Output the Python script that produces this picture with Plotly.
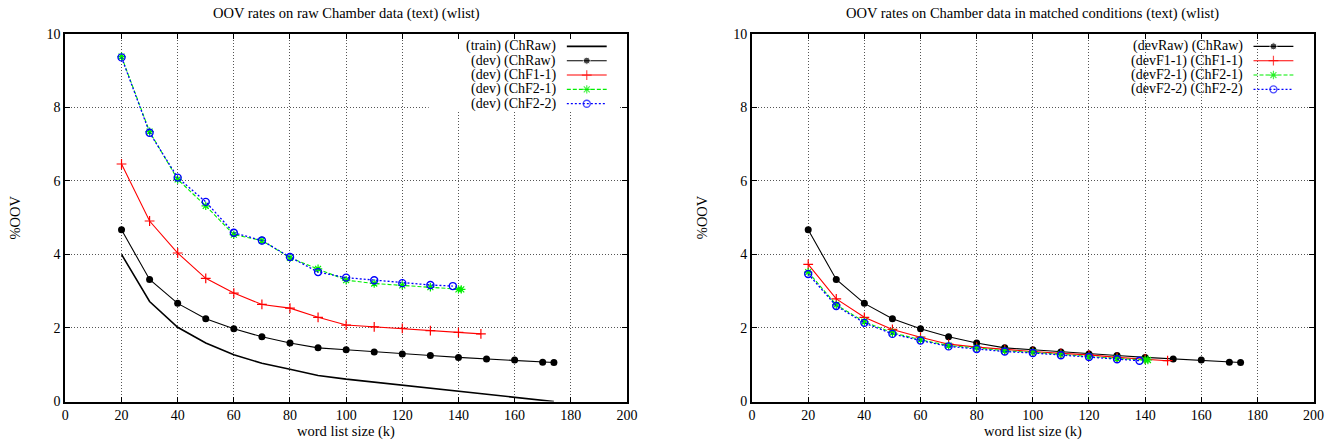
import plotly.graph_objects as go

# word list sizes (k)
x_raw = [20, 30, 40, 50, 60, 70, 80, 90, 100, 110, 120, 130, 140, 150, 160, 170, 174]
x_f1 = [20, 30, 40, 50, 60, 70, 80, 90, 100, 110, 120, 130, 140, 148]
x_f21 = [20, 30, 40, 50, 60, 70, 80, 90, 100, 110, 120, 130, 140, 141]
x_f22 = [20, 30, 40, 50, 60, 70, 80, 90, 100, 110, 120, 130, 138]

# left: raw Chamber data
train_raw = [4.0, 2.72, 2.02, 1.59, 1.27, 1.04, 0.88, 0.71, 0.61, 0.53, 0.45, 0.37,
             0.28, 0.2, 0.12, 0.03, 0.0]
dev_raw = [4.67, 3.32, 2.67, 2.25, 1.98, 1.76, 1.59, 1.46, 1.41, 1.35, 1.29, 1.25,
           1.2, 1.16, 1.13, 1.07, 1.06]
dev_f11 = [6.46, 4.91, 4.04, 3.35, 2.95, 2.64, 2.54, 2.29, 2.08, 2.03, 1.99, 1.93, 1.88, 1.84]
dev_f21 = [9.38, 7.34, 6.04, 5.32, 4.54, 4.38, 3.91, 3.61, 3.3, 3.21, 3.16, 3.11, 3.05, 3.05]
dev_f22 = [9.36, 7.31, 6.09, 5.43, 4.59, 4.38, 3.93, 3.52, 3.37, 3.3, 3.22, 3.17, 3.14]

# right: matched conditions
m_raw = dev_raw
m_f11 = [3.73, 2.79, 2.29, 1.96, 1.75, 1.56, 1.48, 1.41, 1.36, 1.31, 1.27, 1.2, 1.16, 1.11]
m_f21 = [3.52, 2.63, 2.17, 1.87, 1.68, 1.52, 1.46, 1.38, 1.34, 1.28, 1.22, 1.17, 1.13, 1.13]
m_f22 = [3.47, 2.6, 2.14, 1.84, 1.66, 1.5, 1.43, 1.36, 1.32, 1.26, 1.21, 1.15, 1.11]

titles = ["OOV rates on raw Chamber data (text) (wlist)",
          "OOV rates on Chamber data in matched conditions (text) (wlist)"]
left_names = ["(train) (ChRaw)", "(dev) (ChRaw)", "(dev) (ChF1-1)", "(dev) (ChF2-1)", "(dev) (ChF2-2)"]
right_names = ["(devRaw) (ChRaw)", "(devF1-1) (ChF1-1)", "(devF2-1) (ChF2-1)", "(devF2-2) (ChF2-2)"]

FONT = "Liberation Serif"
W, H = 1335, 447
# where the figure actually lands on the page (measured from earlier renders, body margin 0)
X0, XW = 2.7, 1320.7
Y0, YH = 7.2, 431.2

# line / marker styles (gnuplot-like)
st_train = dict(line=dict(color="black", width=1.6), mode="lines", marker=dict(size=1))
st_raw = dict(line=dict(color="black", width=1.1), mode="lines+markers",
              marker=dict(symbol="circle", size=7, color="black"))
st_f11 = dict(line=dict(color="#ff0000", width=1.1), mode="lines+markers",
              marker=dict(symbol="cross-thin", size=7, color="#ff0000",
                          line=dict(color="#ff0000", width=1.2)))
st_f21 = dict(line=dict(color="#00ee00", width=1.1, dash="4px,2px"), mode="lines+markers",
              marker=dict(symbol="asterisk-open", size=7, color="#00ee00",
                          line=dict(color="#00ee00", width=1.2)))
st_f22 = dict(line=dict(color="#0000ff", width=1.3, dash="2px,2px"), mode="lines+markers",
              marker=dict(symbol="circle-open", size=7, color="#0000ff",
                          line=dict(color="#0000ff", width=1.4)))

fig = go.Figure()

left = [(x_raw, train_raw, st_train), (x_raw, dev_raw, st_raw), (x_f1, dev_f11, st_f11),
        (x_f21, dev_f21, st_f21), (x_f22, dev_f22, st_f22)]
right = [(x_raw, m_raw, st_raw), (x_f1, m_f11, st_f11),
         (x_f21, m_f21, st_f21), (x_f22, m_f22, st_f22)]

for xs, ys, st in left:
    fig.add_trace(go.Scatter(x=xs, y=ys, xaxis="x", yaxis="y", showlegend=False,
                             hoverinfo="skip", **st))
for xs, ys, st in right:
    fig.add_trace(go.Scatter(x=xs, y=ys, xaxis="x2", yaxis="y2", showlegend=False,
                             hoverinfo="skip", **st))

# white box behind the left key (gnuplot blanks the grid there)
fig.add_trace(go.Scatter(x=[0.647, 0.986, 0.986, 0.647, 0.647], y=[0.793, 0.793, 0.996, 0.996, 0.793],
                         xaxis="x3", yaxis="y3", mode="lines", fill="toself",
                         fillcolor="white", line=dict(width=0), showlegend=False,
                         hoverinfo="skip"))

# hand-made gnuplot-style key (text right-aligned, sample on the right side)
key_x = [0.893, 0.9285, 0.964]
annotations = []
for ax, names, styles in [("3", left_names, [s for _, _, s in left]),
                          ("4", right_names, [s for _, _, s in right])]:
    for i, (nm, st) in enumerate(zip(names, styles)):
        ky = 0.966 - i * 0.039
        msize = st["marker"]["size"]
        fig.add_trace(go.Scatter(
            x=key_x, y=[ky] * 3, xaxis="x" + ax, yaxis="y" + ax, showlegend=False,
            hoverinfo="skip", mode=st["mode"], line=st["line"],
            marker=dict(st["marker"], size=[0, msize, 0]) if "markers" in st["mode"] else None))
        annotations.append(dict(x=0.878, y=ky, xref="x" + ax, yref="y" + ax, text=nm,
                                showarrow=False, xanchor="right", yanchor="middle",
                                font=dict(family=FONT, size=14, color="black")))


def px(x):
    return (x - X0) / XW


def py(y):
    return 1 - (y - Y0) / YH


dom_y = [py(401), py(34)]
dom_l = [px(65), px(626)]
dom_r = [px(751), px(1312)]

axis_common = dict(showline=True, linecolor="black", linewidth=2, mirror="ticks",
                   ticks="inside", ticklen=5, tickwidth=1, tickcolor="black",
                   showgrid=True, gridcolor="#555555", gridwidth=1, griddash="1px,2px",
                   zeroline=False, tickfont=dict(family=FONT, size=14, color="black"))
xcommon = dict(axis_common, range=[0, 200], tick0=0, dtick=20)
ycommon = dict(axis_common, range=[0, 10], tick0=0, dtick=2)
hidden = dict(range=[0, 1], visible=False, fixedrange=True)

for tx, cx in [(titles[0], 345.5), (titles[1], 1031.5)]:
    annotations.append(dict(x=px(cx), y=py(14), xref="paper", yref="paper", text=tx,
                            showarrow=False, xanchor="center", yanchor="middle",
                            font=dict(family=FONT, size=14.5, color="black")))
for cx in [345.5, 1031.5]:
    annotations.append(dict(x=px(cx), y=py(431), xref="paper", yref="paper",
                            text="word list size (k)", showarrow=False,
                            xanchor="center", yanchor="middle",
                            font=dict(family=FONT, size=14.5, color="black")))
for cx in [15, 701]:
    annotations.append(dict(x=px(cx), y=py(217), xref="paper", yref="paper",
                            text="%OOV", textangle=-90, showarrow=False,
                            xanchor="center", yanchor="middle",
                            font=dict(family=FONT, size=14.5, color="black")))

fig.update_layout(
    width=W, height=H, autosize=False,
    margin=dict(l=0, r=0, t=0, b=0),
    paper_bgcolor="white", plot_bgcolor="white",
    xaxis=dict(xcommon, domain=dom_l, anchor="y"),
    yaxis=dict(ycommon, domain=dom_y, anchor="x"),
    xaxis2=dict(xcommon, domain=dom_r, anchor="y2"),
    yaxis2=dict(ycommon, domain=dom_y, anchor="x2"),
    xaxis3=dict(hidden, domain=dom_l, anchor="y3", overlaying="x"),
    yaxis3=dict(hidden, domain=dom_y, anchor="x3", overlaying="y"),
    xaxis4=dict(hidden, domain=dom_r, anchor="y4", overlaying="x2"),
    yaxis4=dict(hidden, domain=dom_y, anchor="x4", overlaying="y2"),
    annotations=annotations,
)

fig.write_html(
    "out.html",
    config={"displayModeBar": False, "responsive": False},
    post_script="document.body.style.margin='0px';"
                "document.documentElement.style.overflow='hidden';",
)
